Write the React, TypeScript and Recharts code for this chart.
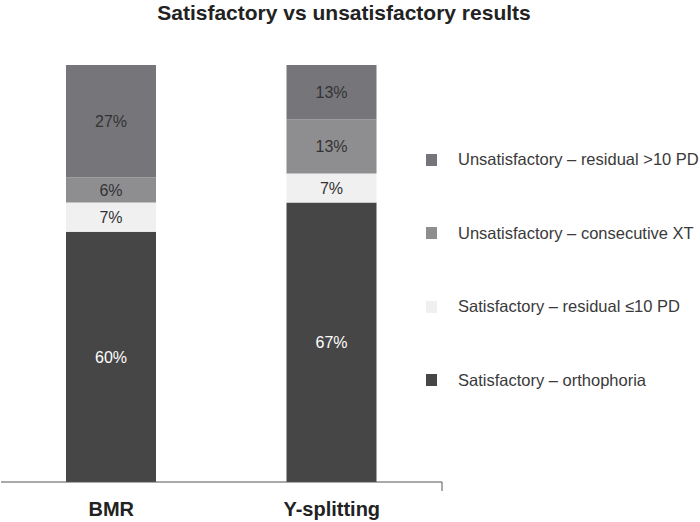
import { BarChart, Bar, XAxis, YAxis, Legend, LabelList } from "recharts";

// categories and series (percent of patients)
const groups = ["BMR", "Y-splitting"];
const orthophoria = [60, 67];
const residualLow = [7, 7];
const consecutiveXT = [6, 13];
const residualHigh = [27, 13];

const series = [
  { key: "orthophoria", name: "Satisfactory – orthophoria", color: "#464646", text: "#ffffff" },
  { key: "residualLow", name: "Satisfactory – residual ≤10 PD", color: "#f0f0f0", text: "#333333" },
  { key: "consecutiveXT", name: "Unsatisfactory – consecutive XT", color: "#8e8e91", text: "#333333" },
  { key: "residualHigh", name: "Unsatisfactory – residual >10 PD", color: "#76767a", text: "#333333" },
];

const data = groups.map((g, i) => ({
  name: g,
  orthophoria: orthophoria[i],
  residualLow: residualLow[i],
  consecutiveXT: consecutiveXT[i],
  residualHigh: residualHigh[i],
}));

const font = "'Liberation Sans', Arial, sans-serif";

// legend listed top series first
const LegendContent = () => (
  <div style={{ fontFamily: font }}>
    {[...series].reverse().map((s) => (
      <div
        key={s.key}
        style={{ height: 73.5, display: "flex", alignItems: "center", whiteSpace: "nowrap" }}
      >
        <span
          style={{
            display: "inline-block",
            flexShrink: 0,
            width: 11,
            height: 12,
            background: s.color,
            marginRight: 21,
          }}
        />
        <span style={{ fontSize: 16.5, color: "#3a3a3a" }}>{s.name}</span>
      </div>
    ))}
  </div>
);

export default function App() {
  return (
    <div style={{ position: "absolute", left: 0, top: 0, width: 700, height: 522, background: "#fff" }}>
      <div
        style={{
          position: "absolute",
          left: 0,
          width: 688,
          top: 0,
          textAlign: "center",
          fontFamily: "'Liberation Sans Narrow', 'Arial Narrow', sans-serif",
          fontWeight: "bold",
          fontSize: 21,
          color: "#222",
          lineHeight: "26px",
        }}
      >
        Satisfactory vs unsatisfactory results
      </div>
      <BarChart
        width={700}
        height={522}
        data={data}
        margin={{ top: 65, right: 8, bottom: 0, left: 1 }}
      >
        {/* axis line with ticks at the category boundaries */}
        <XAxis
          xAxisId={0}
          type="number"
          domain={[0, 2]}
          ticks={[0, 1, 2]}
          tick={() => <g />}
          tickSize={9}
          height={1}
          axisLine={{ stroke: "#555" }}
          tickLine={{ stroke: "#555" }}
        />
        <XAxis
          xAxisId={1}
          dataKey="name"
          height={39}
          axisLine={false}
          tickLine={false}
          tickMargin={13}
          tick={{ fontSize: 20, fontWeight: "bold", fill: "#222", fontFamily: font }}
        />
        <YAxis hide domain={[0, 100]} />
        <Legend
          layout="vertical"
          align="right"
          verticalAlign="top"
          width={250}
          content={<LegendContent />}
          wrapperStyle={{ left: 426, top: 123 }}
        />
        {series.map((s) => (
          <Bar
            key={s.key}
            xAxisId={1}
            dataKey={s.key}
            name={s.name}
            stackId="a"
            fill={s.color}
            barSize={90}
            isAnimationActive={false}
          >
            <LabelList
              dataKey={s.key}
              position="center"
              formatter={(v: number) => `${v}%`}
              style={{ fontSize: 16, fill: s.text, fontFamily: font }}
            />
          </Bar>
        ))}
      </BarChart>
    </div>
  );
}
